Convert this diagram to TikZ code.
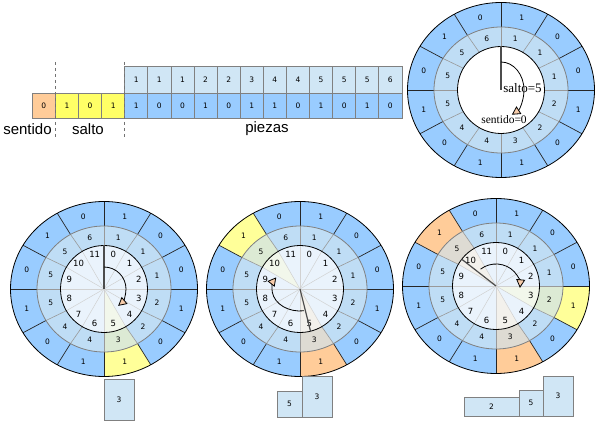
\documentclass[tikz,border=0pt]{standalone}
\usepackage{fontspec}
\setmainfont{DejaVu Sans}
\newfontfamily\arialf{Liberation Sans}
\newfontfamily\timesf{Liberation Serif}
\usetikzlibrary{arrows.meta}
\definecolor{oblue}{HTML}{99CCFF}
\definecolor{mblue}{HTML}{BFDDF5}
\definecolor{iblue}{HTML}{EAF3FC}
\definecolor{tblue}{HTML}{D0E6F5}
\definecolor{peach}{HTML}{FFCC99}
\definecolor{syellow}{HTML}{FFFF66}
\definecolor{hyellow}{HTML}{FFFF99}
\definecolor{mgreen}{HTML}{DCEAD4}
\definecolor{igreen}{HTML}{F2F7EB}
\definecolor{mgray}{HTML}{DEDBD3}
\definecolor{igray}{HTML}{F3F1EC}
\definecolor{arrowfill}{HTML}{F7CCAA}
\definecolor{cellline}{HTML}{808080}
\def\IR{43.5pt}
\newcommand\ringsec[6]{%
  \fill[#6] ({90-30*#1}:#2 and #3) arc[start angle={90-30*#1}, end angle={60-30*#1}, x radius=#2, y radius=#3]
    -- ({60-30*#1}:#4 and #5) arc[start angle={60-30*#1}, end angle={90-30*#1}, x radius=#4, y radius=#5] -- cycle;}
\newcommand\basewheel[1]{%
  \fill[oblue] (0,0) ellipse[x radius=93.5pt, y radius=87.5pt];
  \fill[mblue] (0,0) ellipse[x radius=67pt, y radius=63pt];
  \fill[#1] (0,0) circle[radius=43.5pt];}
\newcommand\hlsec[4]{%
  \ringsec{#1}{93.5pt}{87.5pt}{67pt}{63pt}{#2}
  \ringsec{#1}{67pt}{63pt}{43.5pt}{43.5pt}{#3}
  \fill[#4] (0,0) -- ({90-30*#1}:43.5pt) arc[start angle={90-30*#1}, end angle={60-30*#1}, radius=43.5pt] -- cycle;}
\newcommand\wheellines[2]{% #1 prefix, #2 inner numbers (1/0)
  \ifnum#2=1
    \foreach \k in {0,...,11}{\draw[innerline] (0,0) -- ({90-30*\k}:43.5pt);}
  \fi
  \foreach \k in {0,...,11}{
    \draw[outerline] ({90-30*\k}:67pt and 63pt) -- ({90-30*\k}:93.5pt and 87.5pt);
    \draw[midline] ({90-30*\k}:43.5pt) -- ({90-30*\k}:67pt and 63pt);
  }
  \draw[black, line width=0.8pt] (0,0) ellipse[x radius=93.5pt, y radius=87.5pt];
  \draw[cellline, line width=0.8pt] (0,0) ellipse[x radius=67pt, y radius=63pt];
  \draw[black, line width=0.8pt] (0,0) circle[radius=43.5pt];
  \foreach \v [count=\k from 0] in {1,0,0,1,0,1,1,0,1,0,1,0}
    \node[cellnum] (#1o\k) at ({75-30*\k}:80pt and 75pt) {\v};
  \foreach \v [count=\k from 0] in {1,1,1,2,2,3,4,4,5,5,5,6}
    \node[cellnum] (#1m\k) at ({75-30*\k}:55pt and 53pt) {\v};
  \ifnum#2=1
    \foreach \k in {0,...,11}
      \node[innernum] (#1i\k) at ({75-30*\k}:36pt) {\k};
  \fi}
\tikzset{
  cellbox/.style={draw=cellline, line width=0.8pt, minimum width=23.1pt, inner sep=0pt, font=\fontsize{7.5}{8}\selectfont},
  cellnum/.style={inner sep=0pt, font=\fontsize{7.5}{8}\selectfont},
  innernum/.style={inner sep=0pt, font=\fontsize{8.5}{9}\selectfont},
  biglabel/.style={inner sep=0pt, font=\arialf\fontsize{15}{16}\selectfont},
  outerline/.style={draw=black!85, line width=0.7pt},
  midline/.style={draw=black!40, line width=0.6pt},
  innerline/.style={draw=black!18, line width=0.5pt},
  pointer/.style={draw=black!70, line width=1.2pt},
  turnarrow/.style={draw=black, line width=0.8pt, -{Triangle[length=8.5pt, width=9pt, fill=arrowfill]}},
  stackbox/.style={draw=cellline, line width=0.8pt, fill=tblue, inner sep=0pt, font=\fontsize{7.5}{8}\selectfont},
  sepline/.style={draw=black!55, dashed, line width=0.6pt}
}
\begin{document}
\begin{tikzpicture}[x=1pt,y=1pt]
\useasboundingbox (0,0) rectangle (596,423);
% ---- strip ----
\foreach \v [count=\i from 4] in {1,1,1,2,2,3,4,4,5,5,5,6}
  \node[cellbox, fill=tblue, minimum height=27pt] (t\i) at ({32.3+23.1*(\i+0.5)}, 343.5) {\v};
\node[cellbox, fill=peach, minimum height=25pt] (b0) at ({32.3+23.1*0.5}, 317.5) {0};
\foreach \v [count=\i from 1] in {1,0,1}
  \node[cellbox, fill=syellow, minimum height=25pt] (b\i) at ({32.3+23.1*(\i+0.5)}, 317.5) {\v};
\foreach \v [count=\i from 4] in {1,0,0,1,0,1,1,0,1,0,1,0}
  \node[cellbox, fill=oblue, minimum height=25pt] (b\i) at ({32.3+23.1*(\i+0.5)}, 317.5) {\v};
\coordinate (d1a) at (55.4,361); \coordinate (d1b) at (55.4,286);
\coordinate (d2a) at (124.7,361); \coordinate (d2b) at (124.7,286);
\draw[sepline] (d1a) -- (d1b);
\draw[sepline] (d2a) -- (d2b);
\node[biglabel] (lsent) at (27.5,294) {sentido};
\node[biglabel] (lsalto) at (88,294) {salto};
\node[biglabel] (lpiez) at (267,294) {piezas};
% ---- top right wheel ----
\begin{scope}[shift={(501,333)}]
  \basewheel{white}
  \wheellines{tr}{0}
  \draw[pointer] (0,0) -- (90:\IR);
  \draw[turnarrow] (90:23pt and 28pt) arc[start angle=90, end angle=-62, x radius=23pt, y radius=28pt];
  \node[inner sep=0pt, font=\timesf\fontsize{13}{14}\selectfont] (salto) at (21.5,2) {salto=5};
  \node[inner sep=0pt, font=\timesf\fontsize{11.5}{12}\selectfont] (sent) at (3,-30) {sentido=0};
\end{scope}
% ---- bottom wheel 1 ----
\begin{scope}[shift={(104,134)}]
  \basewheel{iblue}
  \hlsec{5}{hyellow}{mgreen}{igreen}
  \wheellines{a}{1}
  \draw[pointer] (0,0) -- (90:\IR);
  \draw[turnarrow] (90:22pt) arc[start angle=90, end angle=-50, radius=22pt];
\end{scope}
% ---- bottom wheel 2 ----
\begin{scope}[shift={(300,134)}]
  \basewheel{iblue}
  \hlsec{10}{hyellow}{mgreen}{igreen}
  \hlsec{5}{peach}{mgray}{igray}
  \wheellines{b}{1}
  \draw[pointer] (0,0) -- (-76:\IR);
  \draw[turnarrow] (-82:28pt and 22pt) arc[start angle=-82, end angle=-212, x radius=28pt, y radius=22pt];
\end{scope}
% ---- bottom wheel 3 ----
\begin{scope}[shift={(496,137)}]
  \basewheel{iblue}
  \hlsec{10}{peach}{mgray}{igray}
  \hlsec{5}{peach}{mgray}{igray}
  \hlsec{3}{hyellow}{mgreen}{igreen}
  \wheellines{c}{1}
  \draw[pointer] (0,0) -- (142:\IR);
  \draw[turnarrow] (130:24pt and 22pt) arc[start angle=130, end angle=-5, x radius=24pt, y radius=22pt];
\end{scope}
% ---- stacks ----
\node[stackbox, minimum width=30pt, minimum height=41pt] (s1a) at (119,23.5) {3};
\node[stackbox, minimum width=25pt, minimum height=26pt] (s2a) at (289.5,19) {5};
\node[stackbox, minimum width=30pt, minimum height=41pt] (s2b) at (317,26.5) {3};
\node[stackbox, minimum width=55pt, minimum height=19pt] (s3a) at (491.5,16.5) {2};
\node[stackbox, minimum width=24pt, minimum height=26pt] (s3b) at (531,20) {5};
\node[stackbox, minimum width=30pt, minimum height=40pt] (s3c) at (558,27) {3};
\end{tikzpicture}
\end{document}
